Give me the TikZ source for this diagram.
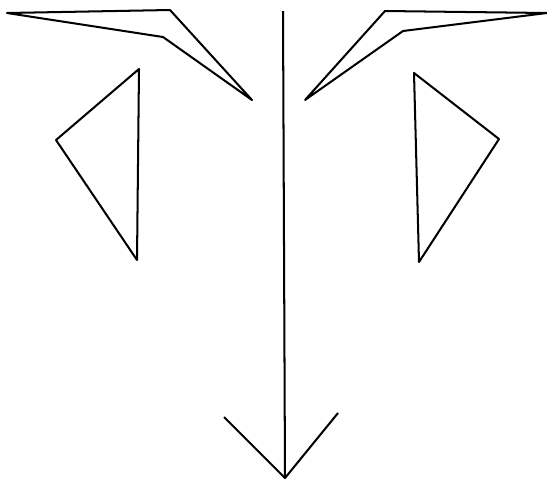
\documentclass[tikz,border=0pt]{standalone}
\begin{document}
\begin{tikzpicture}[
      x=0.02cm, y=-0.02cm,
      linie/.style={draw=black, line width=1.15pt, line join=round}
    ]
      \useasboundingbox (0,0) rectangle (547,481);
      % obere Fluegel
      \draw[linie] (7,13) -- (170,10) -- (252,100) -- (163,37) -- cycle;
      \draw[linie] (547,13) -- (385,11) -- (305,100) -- (403,31) -- cycle;
      % seitliche Dreiecke
      \draw[linie] (139,69) -- (56,140) -- (137,260) -- cycle;
      \draw[linie] (414,73) -- (499,139) -- (419,262) -- cycle;
      % Pfeil in der Mitte
      \coordinate (oben) at (283,11);
      \coordinate (spitze) at (285,478);
      \draw[linie] (oben) -- (spitze);
      \draw[linie] (224,417) -- (spitze) -- (338,413);
    \end{tikzpicture}
\end{document}
